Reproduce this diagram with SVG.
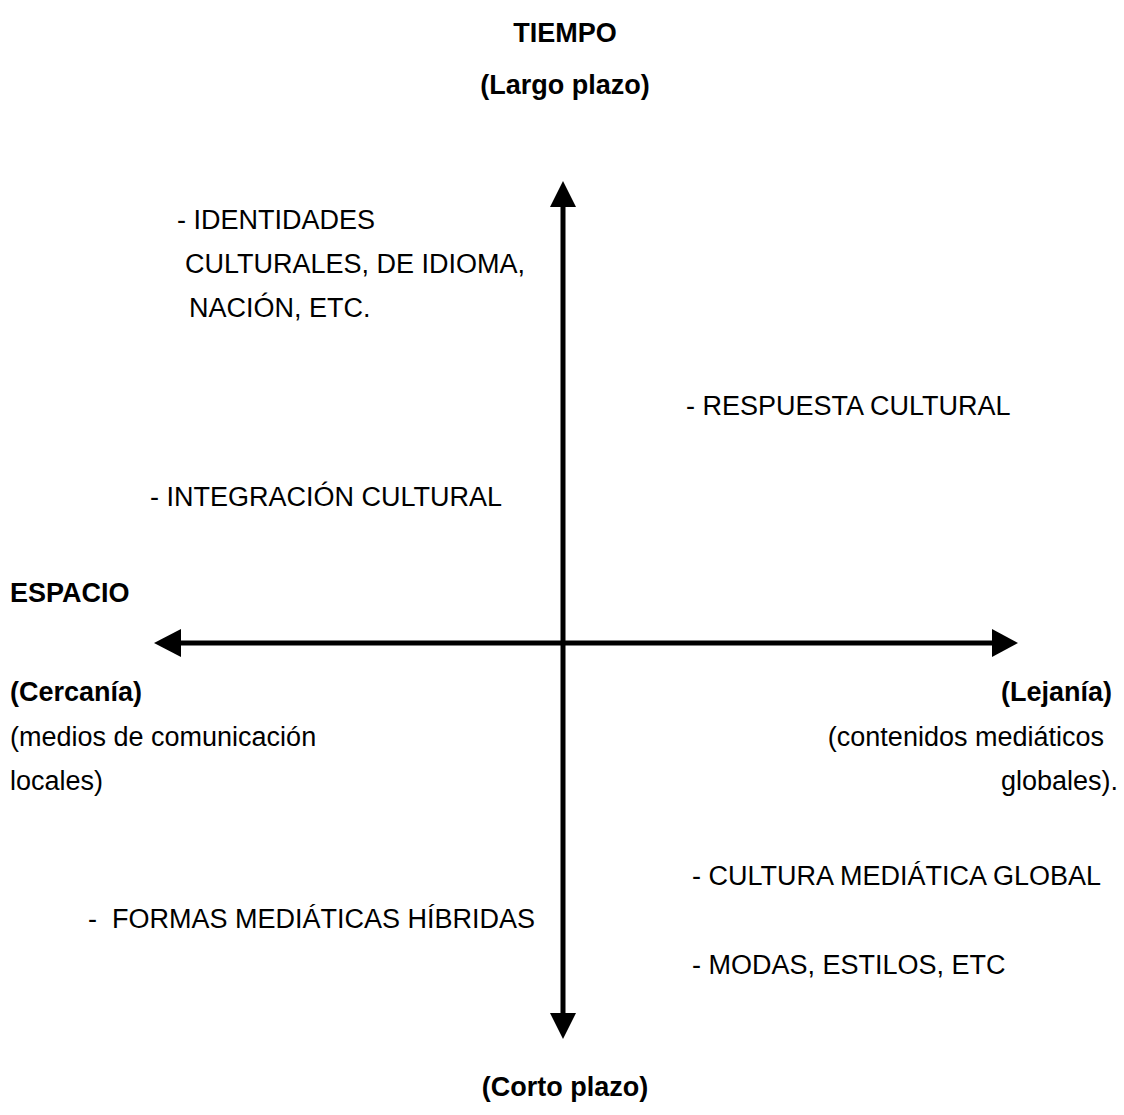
<svg xmlns="http://www.w3.org/2000/svg" width="1124" height="1115" viewBox="0 0 1124 1115">
<style>
text{font-family:"Liberation Sans",Arial,sans-serif;font-size:27px;fill:#000}
.b{font-weight:bold}
.ax{stroke:#000;stroke-width:5;fill:none}
</style>
<rect width="1124" height="1115" fill="#fff"/>
<g id="connectors">
<line class="ax" x1="563" y1="205" x2="563" y2="1015"/>
<polygon points="563,181 550,207 576,207"/>
<polygon points="563,1039 550,1013 576,1013"/>
<line class="ax" x1="178" y1="643" x2="995" y2="643"/>
<polygon points="154,643 181,629 181,657"/>
<polygon points="1018,643 992,629 992,657"/>
</g>
<g id="tiempo"><text class="b" x="565" y="42" text-anchor="middle">TIEMPO</text>
<text class="b" x="565" y="94" text-anchor="middle">(Largo plazo)</text></g>
<g id="corto"><text class="b" x="565" y="1096" text-anchor="middle">(Corto plazo)</text></g>
<g id="identidades"><text x="177" y="229">- IDENTIDADES</text>
<text x="185" y="273">CULTURALES, DE IDIOMA,</text>
<text x="189" y="317">NACIÓN, ETC.</text></g>
<g id="respuesta"><text x="686" y="415">- RESPUESTA CULTURAL</text></g>
<g id="integracion"><text x="150" y="506">- INTEGRACIÓN CULTURAL</text></g>
<g id="espacio"><text class="b" x="10" y="602">ESPACIO</text></g>
<g id="cercania"><text class="b" x="10" y="701">(Cercanía)</text>
<text x="10" y="746">(medios de comunicación</text>
<text x="10" y="790">locales)</text></g>
<g id="lejania"><text class="b" x="1112" y="701" text-anchor="end">(Lejanía)</text>
<text x="1104" y="746" text-anchor="end">(contenidos mediáticos</text>
<text x="1118" y="790" text-anchor="end">globales).</text></g>
<g id="cultura"><text x="692" y="885">- CULTURA MEDIÁTICA GLOBAL</text></g>
<g id="formas"><text x="88" y="928" xml:space="preserve">-  FORMAS MEDIÁTICAS HÍBRIDAS</text></g>
<g id="modas"><text x="692" y="974">- MODAS, ESTILOS, ETC</text></g>
</svg>
